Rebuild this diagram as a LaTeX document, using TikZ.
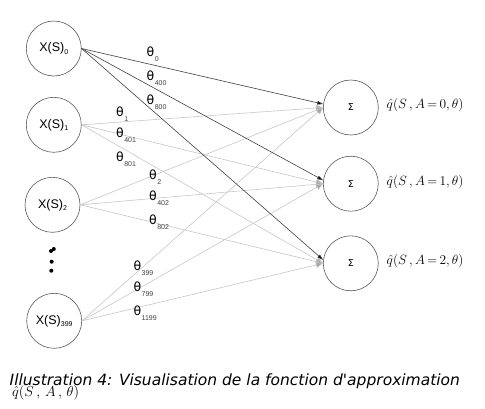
\RequirePackage{fix-cm}
\documentclass[tikz,border=0pt]{standalone}
\usepackage{fontspec}
\setmainfont{Liberation Sans}
\newfontfamily\dejavu{DejaVu Sans}
\usetikzlibrary{arrows.meta}
\newcommand{\xs}[1]{X(S)\raisebox{-2.5pt}{\fontsize{7}{7}\selectfont #1}}
\newcommand{\thl}[1]{{\dejavu\fontsize{12.5}{12.5}\selectfont θ}\kern0.5pt\raisebox{-5pt}{\fontsize{7}{7}\selectfont\color{black!75}#1}}
\newcommand{\qlab}[1]{$\hat{q}\bigl(S\,,A\,{=}\,#1,\theta\bigr)$}
\begin{document}
\begin{tikzpicture}[x=1pt,y=-1pt,
  neuron/.style={draw=black!65,line width=0.6pt,circle,minimum size=55pt,inner sep=0pt,font=\fontsize{12.5}{12.5}\selectfont},
  sumnode/.style={neuron,font=\dejavu\fontsize{9.5}{9.5}\selectfont},
  light/.style={draw=black!22,line width=0.6pt,-{Triangle[length=7pt,width=6pt,fill=black!35]}},
  dark/.style={draw=black!75,line width=0.6pt,-{Triangle[length=6pt,width=3.5pt,fill=black]}},
  thlabel/.style={anchor=base west,inner sep=0pt},
  qlabel/.style={anchor=west,inner sep=0pt,font=\fontsize{13.4}{13.4}\selectfont},
  dotstyle/.style={fill=black}]
\useasboundingbox (0,0) rectangle (485,408);
% inputs
\node[neuron] (x0) at (53.8,48.5) {\xs{0}};
\node[neuron] (x1) at (53.8,124.8) {\xs{1}};
\node[neuron] (x2) at (52.5,204.8) {\xs{2}};
\node[neuron] (x3) at (54.2,320.8) {\xs{399}};
% dots
\fill[dotstyle] (51,251) circle (2pt);
\fill[dotstyle] (53.8,249) circle (2pt);
\fill[dotstyle] (51.7,261.7) circle (2pt);
\fill[dotstyle] (51.3,270.7) circle (2pt);
% outputs
\node[sumnode] (o1) at (350.8,107.5) {Σ};
\node[sumnode] (o2) at (350.8,183.7) {Σ};
\node[sumnode] (o3) at (350.8,263.3) {Σ};
\node[qlabel] (q1) at (386.5,105.5) {\qlab{0}};
\node[qlabel] (q2) at (386.5,182) {\qlab{1}};
\node[qlabel] (q3) at (386.5,261) {\qlab{2}};
% light connections
\foreach \s in {x1,x2,x3}{
  \foreach \t in {o1,o2,o3}{
    \draw[light] (\s.east) -- (\t.west);
  }
}
% dark connections
\foreach \t in {o1,o2,o3}{
  \draw[dark] (x0.east) -- (\t.173);
}
% theta labels
\node[thlabel] (t0) at (146.5,56.5) {\thl{0}};
\node[thlabel] (t400) at (146.5,80) {\thl{400}};
\node[thlabel] (t800) at (146.5,104) {\thl{800}};
\node[thlabel] (t1) at (116,116) {\thl{1}};
\node[thlabel] (t401) at (116,137.5) {\thl{401}};
\node[thlabel] (t801) at (116,161) {\thl{801}};
\node[thlabel] (t2) at (149,179) {\thl{2}};
\node[thlabel] (t402) at (149,200) {\thl{402}};
\node[thlabel] (t802) at (149,224) {\thl{802}};
\node[thlabel] (t399) at (133.3,270.5) {\thl{399}};
\node[thlabel] (t799) at (133.3,291.5) {\thl{799}};
\node[thlabel] (t1199) at (133.3,315) {\thl{1199}};
% caption
\node[anchor=base west,inner sep=0pt,font=\dejavu\itshape\fontsize{15.5}{15.5}\selectfont] (cap) at (9.5,385) {Illustration 4: Visualisation de la fonction d'approximation};
\node[anchor=base west,inner sep=0pt,font=\fontsize{14.4}{14.4}\selectfont] (cap2) at (12,396.5) {$\hat{q}(S\,,\,A\,,\,\theta)$};
\end{tikzpicture}
\end{document}
